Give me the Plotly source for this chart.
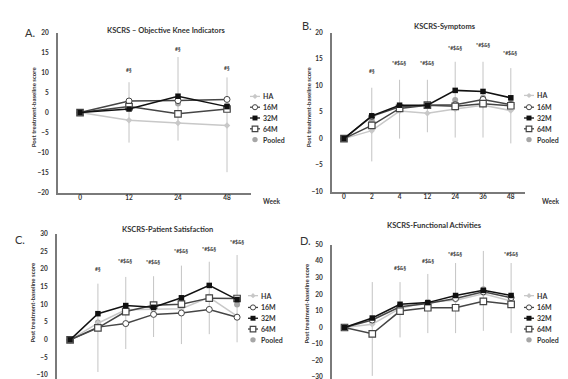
import plotly.graph_objects as go

W, H = 568, 379

# ---------------- data ----------------
weeks_A = ["0", "12", "24", "48"]
weeks_B = ["0", "2", "4", "12", "24", "36", "48"]
series_names = ["HA", "16M", "32M", "64M", "Pooled"]

# Panel A - Objective Knee Indicators
A_HA = [0, -1.9, -2.6, -3.2]
A_16M = [0, 2.9, 3.0, 3.3]
A_32M = [0, 0.9, 4.1, 1.5]
A_64M = [0, 1.5, -0.3, 0.9]
A_Pooled = [0, 1.8, 2.3, 1.8]
A_err_top = [0, 7.6, 13.9, 8.8]
A_err_bot = [0, -7.5, -7.0, -14.9]
A_sig = ["", "#§", "#§", "#§"]
A_sig_y = [0, 10.6, 16.0, 11.2]

# Panel B - Symptoms
B_HA = [0, 1.5, 5.2, 4.8, 5.6, 6.3, 5.3]
B_16M = [0, 4.2, 6.0, 6.3, 6.4, 7.4, 6.4]
B_32M = [0, 4.3, 6.3, 6.3, 9.1, 8.9, 7.7]
B_64M = [0, 2.5, 5.7, 6.3, 6.1, 6.6, 6.2]
B_Pooled = [0, 3.4, 5.7, 6.3, 7.3, 7.7, 6.8]
B_err_top = [0, 9.6, 11.1, 11.1, 14.5, 14.5, 13.3]
B_err_bot = [0, -4.3, 0.0, 1.2, 0.2, 0.2, -0.9]
B_sig = ["", "#§", "*#$&§", "*#$&§", "*#$&§", "*#$&§", "*#$&§"]
B_sig_y = [0, 12.8, 14.2, 14.2, 17.1, 17.7, 16.2]

# Panel C - Patient Satisfaction
C_HA = [0, 4.7, 8.5, 8.7, 8.8, 12.0, 6.7]
C_16M = [0, 3.6, 4.6, 7.2, 7.6, 8.6, 6.4]
C_32M = [0, 7.4, 9.7, 9.2, 11.9, 15.4, 11.4]
C_64M = [0, 3.4, 8.0, 9.8, 10.1, 11.8, 11.7]
C_Pooled = [0, 4.9, 8.0, 8.7, 9.8, 12.2, 10.0]
C_err_top = [0, 15.9, 17.8, 18.0, 21.0, 22.1, 24.0]
C_err_bot = [0, -9.1, -2.6, 0.8, -1.2, 1.6, -0.7]
C_sig = ["", "#§", "*#$&§", "*#$&§", "*#$&§", "*#$&§", "*#$&§"]
C_sig_y = [0, 20.1, 22.4, 21.9, 25.2, 25.8, 27.7]

# Panel D - Functional Activities
D_HA = [0, 2.0, 11.5, 15.5, 16.5, 20.3, 16.0]
D_16M = [0, 4.5, 12.5, 14.5, 17.5, 21.5, 18.0]
D_32M = [0, 5.7, 14.0, 15.0, 19.3, 22.4, 19.3]
D_64M = [0, -3.8, 9.9, 11.9, 11.9, 15.8, 13.9]
D_Pooled = [0, 3.5, 12.8, 15.3, 17.7, 23.0, 18.0]
D_err_top = [0, 27.4, 27.4, 32.3, 38.9, 46.2, 38.9]
D_err_bot = [0, -29.2, -6.0, -3.4, -3.4, -2.0, -3.4]
D_sig = ["", "", "#$&§", "#$&§", "*#$&§", "*#$&§", "*#$&§"]
D_sig_y = [0, 0, 35.7, 40.3, 44.2, 53.6, 44.2]

titles = ["KSCRS – Objective Knee Indicators", "KSCRS-Symptoms",
          "KSCRS-Patient Satisfaction", "KSCRS-Functional Activities"]
letters = ["A.", "B.", "C.", "D."]
y_title = "Post treatment-baseline score"

# ---------------- styles ----------------
FONT = "Lato"
TXT = "#333333"
AXC = "#7a7a7a"
styles = {
    "HA": dict(line=dict(color="#c8c8c8", width=1.5),
               marker=dict(symbol="diamond", size=5, color="#c8c8c8")),
    "16M": dict(line=dict(color="#454545", width=1.5),
                marker=dict(symbol="circle", size=6, color="white",
                            line=dict(color="#454545", width=1))),
    "32M": dict(line=dict(color="#111111", width=1.5),
                marker=dict(symbol="square", size=5.5, color="#111111")),
    "64M": dict(line=dict(color="#454545", width=1.5),
                marker=dict(symbol="square", size=6.5, color="white",
                            line=dict(color="#454545", width=1.2))),
}

panels = [
    dict(cats=weeks_A, data=[A_HA, A_16M, A_32M, A_64M], pooled=A_Pooled,
         top=A_err_top, bot=A_err_bot, sig=A_sig, sig_y=A_sig_y,
         xdom=(50, 243), ydom=(21, 184), xr=[-0.45, 3.49], yr=[-20, 20], dtick=5,
         showx=True, title_xy=(158, 19), letter_xy=(22, 21), ytitle_xy=(25, 97),
         week_xy=(263, 193), leg_x=242, leg_y=[86, 97, 108, 119, 130]),
    dict(cats=weeks_B, data=[B_HA, B_16M, B_32M, B_64M], pooled=B_Pooled,
         top=B_err_top, bot=B_err_bot, sig=B_sig, sig_y=B_sig_y,
         xdom=(324, 517), ydom=(21, 183), xr=[-0.43, 6.51], yr=[-10, 20], dtick=5,
         showx=True, title_xy=(437, 15), letter_xy=(299, 14), ytitle_xy=(300, 97),
         week_xy=(542, 193), leg_x=516, leg_y=[85, 97, 108, 119, 130]),
    dict(cats=weeks_B, data=[C_HA, C_16M, C_32M, C_64M], pooled=C_Pooled,
         top=C_err_top, bot=C_err_bot, sig=C_sig, sig_y=C_sig_y,
         xdom=(49, 243), ydom=(226, 379), xr=[-0.47, 6.5], yr=[-12.5, 30], dtick=5,
         showx=False, title_xy=(159, 222), letter_xy=(12, 232), ytitle_xy=(25, 296),
         week_xy=None, leg_x=240, leg_y=[289, 301, 312, 323, 334]),
    dict(cats=weeks_B, data=[D_HA, D_16M, D_32M, D_64M], pooled=D_Pooled,
         top=D_err_top, bot=D_err_bot, sig=D_sig, sig_y=D_sig_y,
         xdom=(324, 517), ydom=(237, 379), xr=[-0.45, 6.5], yr=[-34.1, 50], dtick=10,
         showx=False, title_xy=(426, 218), letter_xy=(297, 233), ytitle_xy=(299, 297),
         week_xy=None, leg_x=516, leg_y=[289, 301, 312, 323, 334]),
]

def px(x):
    return x / W

def py(y):
    return 1 - y / H

fig = go.Figure()
annotations = []
shapes = []
layout_axes = {}

def note(x, y, text, size, bold=True, angle=0, xanchor="center"):
    f = dict(family=FONT, size=size, color=TXT)
    if bold:
        f["weight"] = "bold"
    return dict(x=px(x), y=py(y), xref="paper", yref="paper", text=text,
                showarrow=False, textangle=angle, xanchor=xanchor, yanchor="middle",
                font=f)

for i, p in enumerate(panels):
    n = "" if i == 0 else str(i + 1)
    xa, ya = "x" + n, "y" + n
    idx = list(range(len(p["cats"])))
    pooled = p["pooled"]
    plus = [t - v for t, v in zip(p["top"], pooled)]
    minus = [v - b for b, v in zip(p["bot"], pooled)]
    # pooled with error bars (drawn first, behind)
    fig.add_trace(go.Scatter(
        x=idx, y=pooled, mode="markers", name="Pooled", showlegend=False,
        xaxis=xa, yaxis=ya, cliponaxis=False,
        marker=dict(symbol="circle", size=6, color="#a6a6a6"),
        error_y=dict(type="data", symmetric=False, array=plus, arrayminus=minus,
                     color="#c4c4c4", thickness=1, width=0)))
    order = [0, 1, 3, 2]  # HA, 16M, 64M, 32M on top
    for k in order:
        name = series_names[k]
        fig.add_trace(go.Scatter(
            x=idx, y=p["data"][k], mode="lines+markers", name=name,
            showlegend=False, xaxis=xa, yaxis=ya, cliponaxis=False,
            **styles[name]))
    # significance labels
    for j, s in enumerate(p["sig"]):
        if s:
            annotations.append(dict(x=j, y=p["sig_y"][j], xref=xa, yref=ya, text=s,
                                    showarrow=False, xanchor="center", yanchor="middle",
                                    font=dict(family=FONT, size=5, color=TXT, weight="bold")))
    # axes
    layout_axes["xaxis" + n] = dict(
        domain=[px(p["xdom"][0]), px(p["xdom"][1])], range=p["xr"], anchor=ya,
        tickmode="array", tickvals=idx, ticktext=p["cats"],
        showticklabels=p["showx"], showline=p["showx"], linecolor=AXC, linewidth=2,
        showgrid=False, zeroline=False, ticks="", fixedrange=True, ticklabelstandoff=-2,
        tickfont=dict(family=FONT, size=6.5, color=TXT, weight="bold"))
    layout_axes["yaxis" + n] = dict(
        domain=[py(p["ydom"][1]), py(p["ydom"][0])], range=p["yr"], anchor=xa,
        dtick=p["dtick"], tick0=0, showline=True, linecolor=AXC, linewidth=2,
        showgrid=False, zeroline=False, ticks="", ticklabelstandoff=6,
        tickfont=dict(family=FONT, size=6.5, color=TXT, weight="bold"))
    # titles, letters, y titles, week label
    annotations.append(note(*p["title_xy"], titles[i], 7.5))
    annotations.append(note(*p["letter_xy"], letters[i], 11, bold=False))
    annotations.append(note(*p["ytitle_xy"], y_title, 6, angle=-90))
    if p["week_xy"]:
        annotations.append(note(*p["week_xy"], "Week", 6.5))
    # manual legend
    lx = p["leg_x"]
    for k, name in enumerate(series_names):
        ly = p["leg_y"][k]
        cx = lx + 5
        if name != "Pooled":
            st = styles[name]
            shapes.append(dict(type="line", xref="paper", yref="paper",
                               x0=px(lx), x1=px(lx + 10), y0=py(ly), y1=py(ly),
                               line=dict(color=st["line"]["color"], width=1.3)))
        if name == "HA":
            r = 2.6
            shapes.append(dict(type="path", xref="paper", yref="paper",
                               path=f"M {px(cx)} {py(ly - r)} L {px(cx + r)} {py(ly)} "
                                    f"L {px(cx)} {py(ly + r)} L {px(cx - r)} {py(ly)} Z",
                               fillcolor="#c8c8c8", line=dict(width=0)))
        elif name == "16M":
            r = 2.6
            shapes.append(dict(type="circle", xref="paper", yref="paper",
                               x0=px(cx - r), x1=px(cx + r), y0=py(ly + r), y1=py(ly - r),
                               fillcolor="white", line=dict(color="#454545", width=1)))
        elif name == "32M":
            r = 2.5
            shapes.append(dict(type="rect", xref="paper", yref="paper",
                               x0=px(cx - r), x1=px(cx + r), y0=py(ly + r), y1=py(ly - r),
                               fillcolor="#111111", line=dict(width=0)))
        elif name == "64M":
            r = 2.8
            shapes.append(dict(type="rect", xref="paper", yref="paper",
                               x0=px(cx - r), x1=px(cx + r), y0=py(ly + r), y1=py(ly - r),
                               fillcolor="white", line=dict(color="#454545", width=1.2)))
        else:
            r = 2.7
            shapes.append(dict(type="circle", xref="paper", yref="paper",
                               x0=px(cx - r), x1=px(cx + r), y0=py(ly + r), y1=py(ly - r),
                               fillcolor="#a6a6a6", line=dict(width=0)))
        annotations.append(note(lx + 11, ly, name, 7, xanchor="left"))

fig.update_layout(
    width=W, height=H, margin=dict(l=0, r=0, t=0, b=0),
    paper_bgcolor="white", plot_bgcolor="white", showlegend=False,
    annotations=annotations, shapes=shapes, **layout_axes)

fig.write_html("out.html", config={"displayModeBar": False})
